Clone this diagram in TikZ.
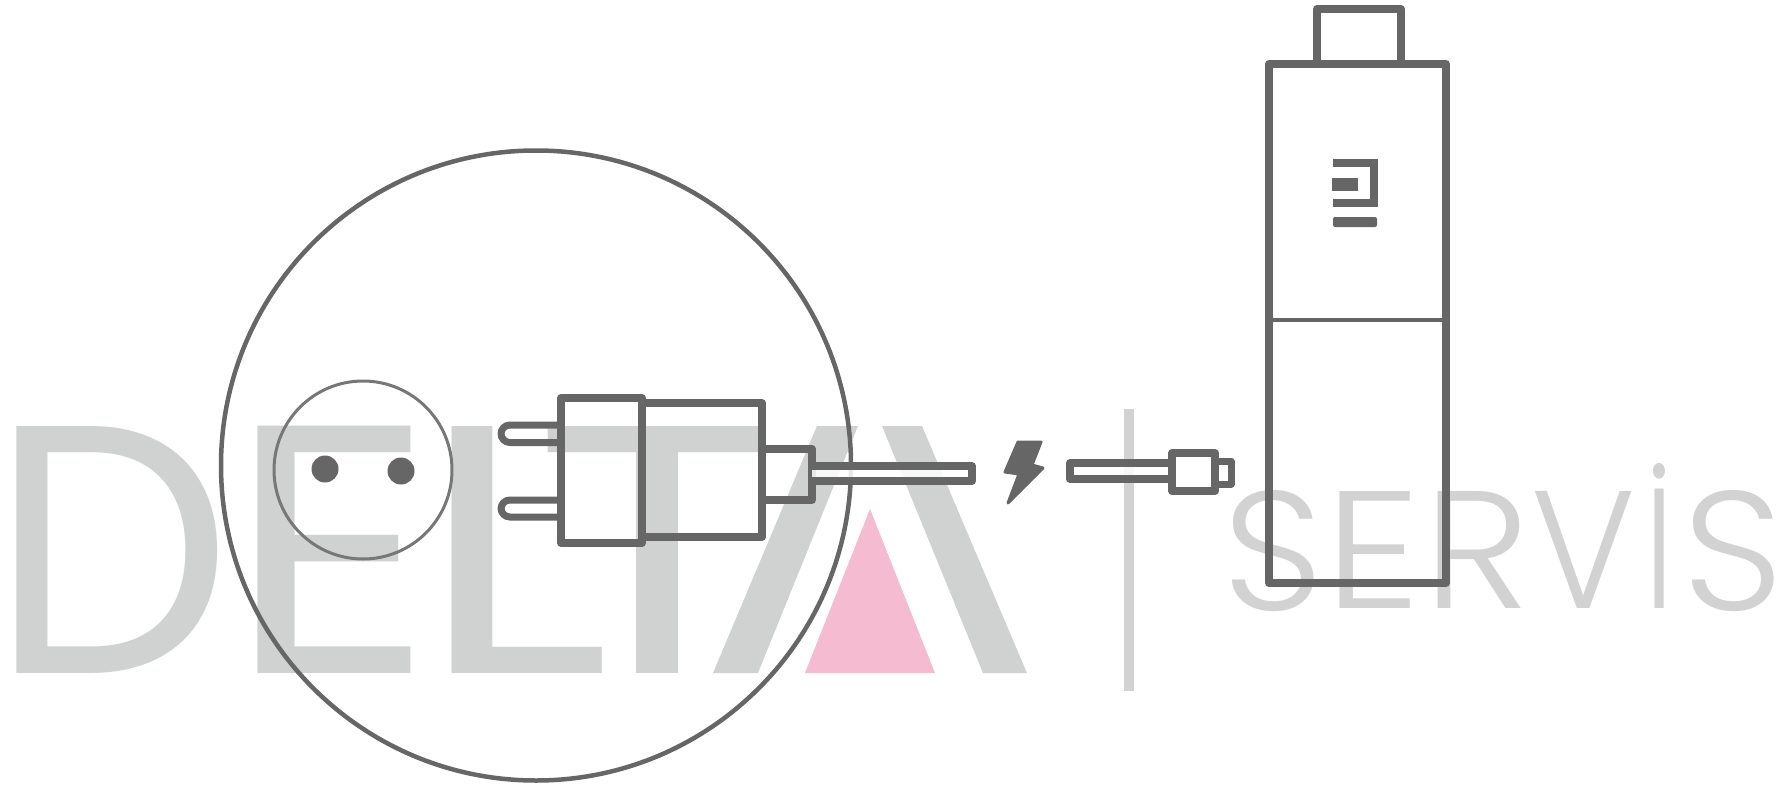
\documentclass[tikz,border=0pt]{standalone}
\usepackage{fontspec}
\setmainfont{Poppins}
\newfontfamily\srvfont{Poppins Light}
\usepackage{graphicx}
\definecolor{ink}{HTML}{666666}
\definecolor{ringgrey}{HTML}{777777}
\definecolor{logogrey}{HTML}{D0D2D2}
\definecolor{srvgrey}{HTML}{D2D2D2}
\definecolor{pinktri}{HTML}{F5BBD0}
\newsavebox{\chbox}
% name, x0, x1, ytop, ybot, left trim, right trim, text
\newcommand{\fitchar}[8]{%
  \pgfmathsetlengthmacro{\fw}{#3-#2}\pgfmathsetlengthmacro{\fh}{#5-#4}%
  \node[letter] (#1) at (#2,#4) {\sbox{\chbox}{#8}\resizebox{\fw}{\fh}{\hspace*{-#6\wd\chbox}\usebox{\chbox}\hspace*{-#7\wd\chbox}}};}
\tikzset{
  letter/.style={inner sep=0pt,outer sep=0pt,anchor=north west,text=logogrey},
  plugline/.style={draw=ink,line width=8pt,line join=round},
  prong/.style={draw=ink,line width=7pt,rounded corners=8.9pt},
  thinring/.style={draw=ringgrey,line width=3pt},
  bigring/.style={draw=ink,line width=4.5pt},
}
\begin{document}
\begin{tikzpicture}[x=1pt,y=-1pt]
\useasboundingbox (0,0) rectangle (1791,787);
% watermark
\fitchar{lD}{17}{218}{426}{673}{.109}{.06}{D}
\fitchar{lE}{258}{411}{426}{673}{.15}{.118}{E}
\fitchar{lL}{452}{602}{426}{673}{.177}{.047}{L}
\fitchar{lT}{549}{765}{426}{673}{.067}{.067}{T}
\fill[logogrey] (817,426) -- (858,426) -- (758,673) -- (713,673) -- cycle;
\fill[logogrey] (882,426) -- (922,426) -- (1027,673) -- (983,673) -- cycle;
\fill[pinktri] (870,509) -- (935,673) -- (805,673) -- cycle;
\fill[srvgrey] (1124,409) rectangle (1134,691);
\begin{scope}[letter/.append style={text=srvgrey}]
\fitchar{sS}{1232}{1315}{490}{610}{.096}{.084}{\srvfont S}
\fitchar{sE}{1340}{1410}{491}{608}{.157}{.12}{\srvfont E}
\fitchar{sR}{1439}{1520}{491}{608}{.143}{.099}{\srvfont R}
\fitchar{sV}{1535}{1632}{491}{608}{.03}{.04}{\srvfont V}
\fitchar{sI}{1650}{1668}{463}{608}{.2}{.2}{\srvfont İ}
\fitchar{sT}{1692}{1775}{490}{610}{.096}{.084}{\srvfont S}
\end{scope}
% rings
\node[circle,bigring,minimum size=630pt,inner sep=0pt] (bigc) at (536,465.5) {};
\node[circle,thinring,minimum size=178pt,inner sep=0pt] (socket) at (363,470) {};
\fill[ink] (325,469) circle (13.5) (401,471) circle (13.5);
% plug
\draw[prong] (561,425) -- (501,425) -- (501,442.5) -- (561,442.5);
\draw[prong] (561,500) -- (501,500) -- (501,517) -- (561,517);
\draw[plugline] (561,398) rectangle (642,543);
\draw[plugline] (642,403) -- (762,403) -- (762,537) -- (642,537);
\draw[plugline] (762,449) -- (812,449) -- (812,500) -- (762,500);
\draw[plugline,fill=white,fill opacity=.85] (812,466) -- (972,466) -- (972,481) -- (812,481);
% bolt
\draw[ink,fill=ink,line width=3pt,line join=round] (1018,442) -- (1041,442) -- (1032,465) -- (1043,468) -- (1008,503) -- (1019,474) -- (1005,472) -- cycle;
% micro usb
\draw[plugline,fill=white,fill opacity=.85] (1171,463) -- (1070,463) -- (1070,479) -- (1171,479);
\draw[plugline] (1172,453) rectangle (1215,491);
\draw[plugline,line width=7pt] (1215,461) -- (1231,461) -- (1231,484) -- (1215,484);
% dongle
\draw[plugline] (1317,64) -- (1317,9) -- (1401,9) -- (1401,64);
\draw[plugline] (1269,64) rectangle (1446,583);
\draw[draw=ink,line width=3.5pt] (1269,320) -- (1446,320);
% logo
\draw[ink,line width=8pt] (1333,163) -- (1373.5,163) -- (1373.5,202.5) -- (1333,202.5);
\fill[ink] (1332,178) rectangle (1358,191);
\fill[ink,rounded corners=2pt] (1333,217) rectangle (1377,227);
\end{tikzpicture}
\end{document}
